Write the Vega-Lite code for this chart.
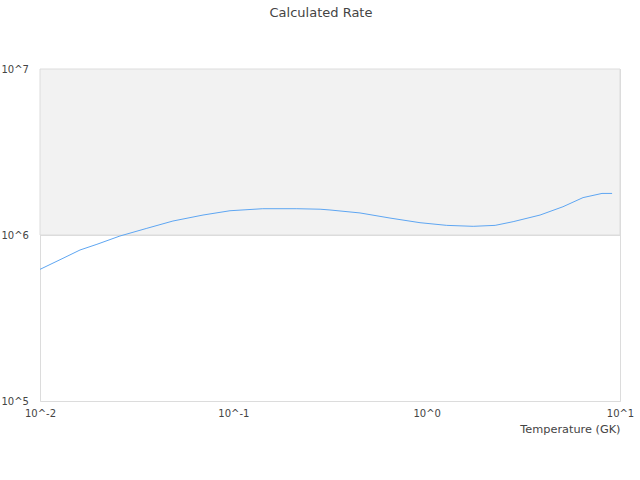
{
  "$schema": "https://vega.github.io/schema/vega-lite/v6.json",
  "width": 580,
  "height": 332,
  "autosize": "none",
  "padding": {"left": 40, "top": 69, "right": 20, "bottom": 79},
  "background": "white",
  "title": {
    "text": "Calculated Rate",
    "font": "DejaVu Sans",
    "fontSize": 13,
    "fontWeight": "normal",
    "color": "#444444",
    "anchor": "middle",
    "offset": 44,
    "dx": -9
  },
  "datasets": {
    "band": [{"lo": 1000000, "hi": 10000000}],
    "rate": [
      {"T": 0.01, "R": 621000},
      {"T": 0.01315, "R": 724000},
      {"T": 0.0161, "R": 812000},
      {"T": 0.0197, "R": 879000},
      {"T": 0.0259, "R": 986000},
      {"T": 0.0357, "R": 1097000},
      {"T": 0.0487, "R": 1214000},
      {"T": 0.0697, "R": 1319000},
      {"T": 0.0961, "R": 1400000},
      {"T": 0.142, "R": 1440000},
      {"T": 0.213, "R": 1440000},
      {"T": 0.281, "R": 1430000},
      {"T": 0.316, "R": 1415000},
      {"T": 0.452, "R": 1358000},
      {"T": 0.646, "R": 1265000},
      {"T": 0.924, "R": 1186000},
      {"T": 1.27, "R": 1143000},
      {"T": 1.74, "R": 1128000},
      {"T": 2.26, "R": 1143000},
      {"T": 2.8, "R": 1203000},
      {"T": 3.86, "R": 1319000},
      {"T": 5.07, "R": 1480000},
      {"T": 6.44, "R": 1680000},
      {"T": 8.07, "R": 1780000},
      {"T": 9.1, "R": 1780000}
    ]
  },
  "layer": [
    {
      "data": {"name": "band"},
      "mark": {"type": "rect", "fill": "#f2f2f2", "stroke": "#dcdcdc", "strokeWidth": 1},
      "encoding": {
        "y": {
          "field": "lo",
          "type": "quantitative",
          "scale": {"type": "log", "domain": [100000, 10000000], "nice": false},
          "axis": {
            "values": [100000, 1000000, 10000000],
            "labelExpr": "'10^' + round(log(datum.value) / LN10)",
            "grid": true,
            "gridColor": "#dcdcdc",
            "domain": false,
            "ticks": false,
            "labelAlign": "left",
            "labelBaseline": "middle",
            "labelPadding": 39,
            "labelFlush": false,
            "labelOverlap": false,
            "labelFont": "DejaVu Sans",
            "labelFontSize": 10,
            "labelColor": "#444444",
            "title": null
          }
        },
        "y2": {"field": "hi"}
      }
    },
    {
      "data": {"name": "rate"},
      "mark": {"type": "line", "color": "#5ea6f2", "strokeWidth": 1},
      "encoding": {
        "x": {
          "field": "T",
          "type": "quantitative",
          "scale": {"type": "log", "domain": [0.01, 10], "nice": false},
          "axis": {
            "values": [0.01, 0.1, 1, 10],
            "labelExpr": "'10^' + round(log(datum.value) / LN10)",
            "grid": false,
            "domain": false,
            "ticks": false,
            "labelPadding": 7,
            "labelFlush": false,
            "labelOverlap": false,
            "labelFont": "DejaVu Sans",
            "labelFontSize": 10,
            "labelColor": "#444444",
            "title": "Temperature (GK)",
            "titleFont": "DejaVu Sans",
            "titleFontSize": 11.3,
            "titleFontWeight": "normal",
            "titleColor": "#444444",
            "titleAnchor": null,
            "titleX": 580,
            "titleY": 22,
            "titleAlign": "right",
            "titleBaseline": "top"
          }
        },
        "y": {
          "field": "R",
          "type": "quantitative",
          "scale": {"type": "log", "domain": [100000, 10000000], "nice": false},
          "axis": {
            "values": [100000, 1000000, 10000000],
            "labelExpr": "'10^' + round(log(datum.value) / LN10)",
            "grid": true,
            "gridColor": "#dcdcdc",
            "domain": false,
            "ticks": false,
            "labelAlign": "left",
            "labelBaseline": "middle",
            "labelPadding": 39,
            "labelFlush": false,
            "labelOverlap": false,
            "labelFont": "DejaVu Sans",
            "labelFontSize": 10,
            "labelColor": "#444444",
            "title": null
          }
        }
      }
    }
  ],
  "config": {
    "view": {"stroke": "#dcdcdc"}
  }
}
